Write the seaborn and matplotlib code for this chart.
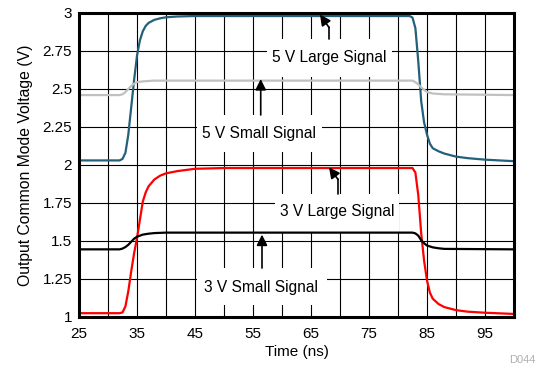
import numpy as np
import pandas as pd
import matplotlib
matplotlib.use("Agg")
import matplotlib.pyplot as plt
from matplotlib.patches import Rectangle
import seaborn as sns

t_5v_large = [25, 32, 32.5, 33, 33.5, 34, 34.5, 35, 35.5, 36, 36.5, 37, 38, 39, 40, 42, 45, 50,
              82, 82.5, 83, 83.5, 84, 84.5, 85, 85.5, 86, 87, 88, 89, 90, 92, 95, 100]
v_5v_large = [2.03, 2.03, 2.04, 2.08, 2.2, 2.38, 2.56, 2.72, 2.82, 2.88, 2.915, 2.935, 2.955, 2.965, 2.972, 2.977, 2.98, 2.98,
              2.98, 2.97, 2.9, 2.68, 2.42, 2.28, 2.2, 2.14, 2.11, 2.09, 2.075, 2.065, 2.055, 2.045, 2.035, 2.025]

t_5v_small = [25, 32, 32.5, 33, 33.5, 34, 34.5, 35, 36, 38, 82.5, 83, 83.5, 84, 84.5, 85, 86, 88, 100]
v_5v_small = [2.46, 2.46, 2.465, 2.48, 2.5, 2.52, 2.535, 2.545, 2.55, 2.555, 2.555, 2.545, 2.53, 2.51, 2.495, 2.48, 2.47, 2.465, 2.46]

t_3v_large = [25, 32, 32.5, 33, 33.5, 34, 34.5, 35, 35.5, 36, 36.5, 37, 38, 39, 40, 42, 45, 50,
              82.5, 83, 83.5, 84, 84.5, 85, 85.5, 86, 87, 88, 89, 90, 92, 95, 100]
v_3v_large = [1.025, 1.025, 1.03, 1.07, 1.17, 1.3, 1.42, 1.52, 1.64, 1.76, 1.82, 1.86, 1.905, 1.93, 1.945, 1.96, 1.975, 1.98,
              1.98, 1.95, 1.8, 1.55, 1.37, 1.24, 1.16, 1.12, 1.085, 1.065, 1.055, 1.045, 1.035, 1.028, 1.02]

t_3v_small = [25, 32, 32.5, 33, 33.5, 34, 34.5, 35, 35.5, 36, 37, 38, 40, 82.5, 83, 83.5, 84, 84.5, 85, 86, 87, 88, 100]
v_3v_small = [1.445, 1.445, 1.45, 1.46, 1.475, 1.495, 1.515, 1.528, 1.535, 1.542, 1.548, 1.552, 1.555,
              1.555, 1.55, 1.535, 1.505, 1.485, 1.47, 1.458, 1.452, 1.448, 1.445]

series = [
    ("5 V Large Signal", t_5v_large, v_5v_large, "#24607a"),
    ("5 V Small Signal", t_5v_small, v_5v_small, "#c0c0c0"),
    ("3 V Large Signal", t_3v_large, v_3v_large, "#ff0000"),
    ("3 V Small Signal", t_3v_small, v_3v_small, "#000000"),
]

x_ticks = [25, 35, 45, 55, 65, 75, 85, 95]
y_ticks = [1, 1.25, 1.5, 1.75, 2, 2.25, 2.5, 2.75, 3]
y_labels = ["1", "1.25", "1.5", "1.75", "2", "2.25", "2.5", "2.75", "3"]

sns.set_theme(style="white")
plt.rcParams["font.family"] = ["Liberation Sans", "DejaVu Sans"]

fig = plt.figure(figsize=(5.39, 3.71), dpi=100)
ax = fig.add_axes([0.1466, 0.1456, 0.807, 0.8194])

for name, t, v, color in series:
    df = pd.DataFrame({"t": t, "v": v})
    sns.lineplot(data=df, x="t", y="v", color=color, linewidth=1.6, ax=ax, zorder=3)

ax.set_xlim(25, 100)
ax.set_ylim(1, 3)
ax.set_xticks(x_ticks)
ax.set_xticks(np.arange(30, 101, 10), minor=True)
ax.set_yticks(y_ticks)
ax.set_yticklabels(y_labels)
ax.set_axisbelow(True)
ax.grid(True, which="both", color="black", linewidth=0.8)
ax.tick_params(which="both", length=0, labelsize=11, colors="black")
ax.tick_params(axis="x", pad=7)
ax.tick_params(axis="y", pad=5)
for sp in ax.spines.values():
    sp.set_color("black")
    sp.set_linewidth(2.2)
    sp.set_zorder(5)

ax.set_xlabel("Time (ns)", fontsize=11, color="black", labelpad=3)
ax.set_ylabel("Output Common Mode Voltage (V)", fontsize=11.3, color="black", labelpad=7)

arrow = dict(arrowstyle="-|>", color="black", lw=1.2, mutation_scale=16, shrinkA=0, shrinkB=0)

# label boxes: (text, text x, text y, box x0, x1, y0, y1)
labels = [
    ("5 V Large Signal", 68.2, 2.704, 57.4, 79.0, 2.579, 2.829),
    ("5 V Small Signal", 56.1, 2.204, 45.3, 66.9, 2.086, 2.329),
    ("3 V Large Signal", 69.5, 1.691, 58.8, 80.2, 1.559, 1.809),
    ("3 V Small Signal", 56.3, 1.197, 45.3, 67.8, 1.079, 1.322),
]
for txt, tx, ty, x0, x1, y0, y1 in labels:
    ax.add_patch(Rectangle((x0, y0), x1 - x0, y1 - y0, facecolor="white", edgecolor="none", zorder=2))
    ax.text(tx, ty, txt, ha="center", va="center", fontsize=11.2, color="black", zorder=4)

# arrows (bent ones get a short straight shaft first)
ax.plot([68.1, 68.1], [2.829, 2.905], color="black", lw=1.2, zorder=4)
ax.annotate("", xy=(66.55, 2.99), xytext=(68.1, 2.905), arrowprops=arrow, zorder=5)

ax.annotate("", xy=(56.33, 2.565), xytext=(56.33, 2.329), arrowprops=arrow, zorder=5)

ax.plot([69.66, 69.66], [1.809, 1.905], color="black", lw=1.2, zorder=4)
ax.annotate("", xy=(68.1, 1.985), xytext=(69.66, 1.905), arrowprops=arrow, zorder=5)

ax.annotate("", xy=(56.55, 1.542), xytext=(56.55, 1.322), arrowprops=arrow, zorder=5)

fig.text(0.993, 0.015, "D044", ha="right", va="bottom", fontsize=8, color="#b0b0b0")

fig.savefig("out.png", dpi=100)
